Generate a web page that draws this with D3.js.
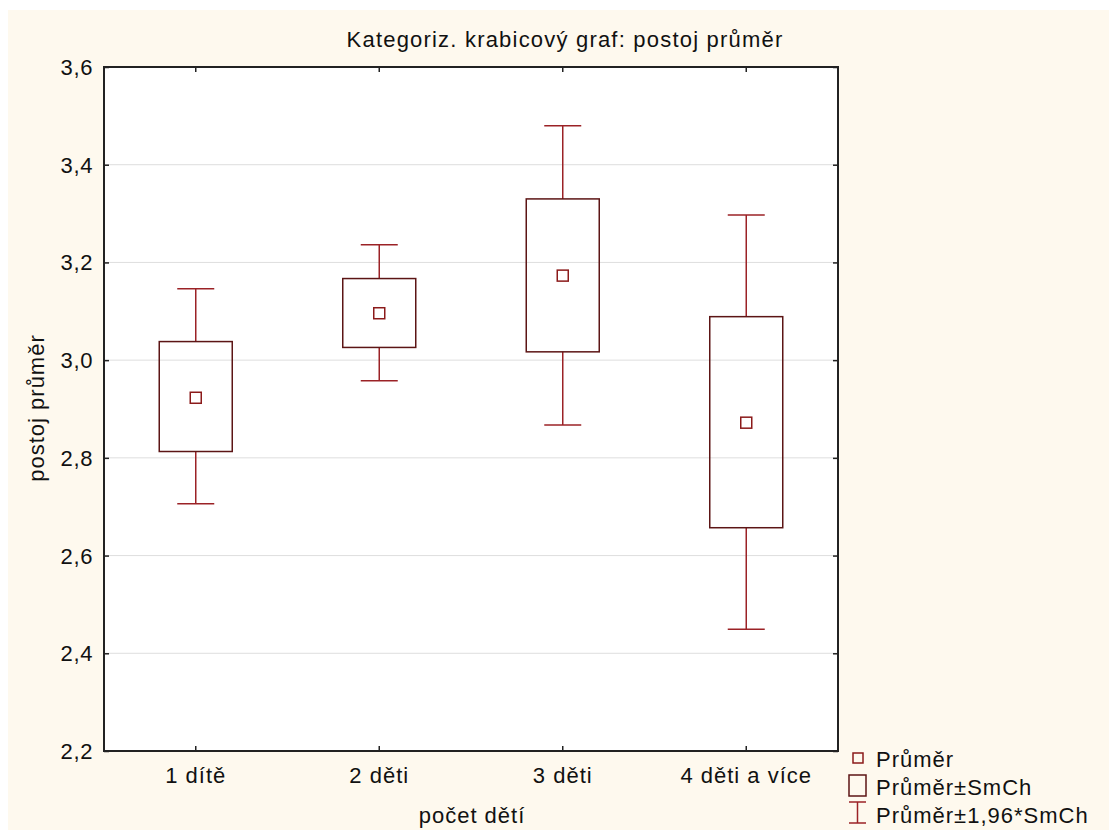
<!DOCTYPE html>
<html>
<head>
<meta charset="utf-8">
<script src="https://cdn.jsdelivr.net/npm/d3@7"></script>
<style>
  body { margin: 0; background: #fff; font-family: Arial, "Liberation Sans", sans-serif; }
  svg text { fill: #111; }
</style>
</head>
<body>
<div id="chart"></div>
<script>
// hodnoty
const categories = ['1 dítě', '2 děti', '3 děti', '4 děti a více'];
const means = [2.923, 3.096, 3.173, 2.872];
const boxLow = [2.813, 3.026, 3.017, 2.657];
const boxHigh = [3.038, 3.167, 3.330, 3.089];
const whiskLow = [2.706, 2.958, 2.867, 2.449];
const whiskHigh = [3.146, 3.236, 3.480, 3.297];
const yTicks = [2.2, 2.4, 2.6, 2.8, 3.0, 3.2, 3.4, 3.6];

const W = 1109, H = 830;
const m = { left: 104, right: 838, top: 67, bottom: 751 };
const boxCol = '#5c1515', whiskCol = '#9b2226', meanCol = '#8b1a1a';
const FONT = 'Arial, "Liberation Sans", sans-serif';

const svg = d3.select('#chart').append('svg').attr('width', W).attr('height', H);

svg.append('rect').attr('x', 8).attr('y', 10).attr('width', W - 8).attr('height', H - 10)
   .attr('fill', '#fef9ee');

const x = d3.scaleBand().domain(categories).range([m.left, m.right]);
const y = d3.scaleLinear().domain([2.2, 3.6]).range([m.bottom, m.top]);

svg.append('rect').attr('x', m.left).attr('y', m.top)
   .attr('width', m.right - m.left).attr('height', m.bottom - m.top).attr('fill', '#fff');

// mřížka
svg.append('g').selectAll('line').data(yTicks.slice(1, -1)).enter().append('line')
   .attr('x1', m.left).attr('x2', m.right)
   .attr('y1', d => y(d)).attr('y2', d => y(d))
   .attr('stroke', '#dedede').attr('stroke-width', 1);

const fmt = d => d.toFixed(1).replace('.', ',');

// osy - tiky dovnitř
const yA = d3.axisLeft(y).tickValues(yTicks).tickFormat(fmt).tickSizeInner(-5).tickSizeOuter(0);
const gy = svg.append('g').attr('transform', 'translate(' + m.left + ',0)').call(yA);
const yR = d3.axisRight(y).tickValues(yTicks).tickFormat('').tickSizeInner(-5).tickSizeOuter(0);
const gyr = svg.append('g').attr('transform', 'translate(' + m.right + ',0)').call(yR);
const xA = d3.axisBottom(x).tickSizeInner(-5).tickSizeOuter(0);
const gx = svg.append('g').attr('transform', 'translate(0,' + m.bottom + ')').call(xA);
const xT = d3.axisTop(x).tickFormat('').tickSizeInner(-5).tickSizeOuter(0);
const gxt = svg.append('g').attr('transform', 'translate(0,' + m.top + ')').call(xT);

[gy, gyr, gx, gxt].forEach(g => {
  g.select('.domain').remove();
  g.selectAll('line').attr('stroke', '#222').attr('stroke-width', 1.5);
  g.selectAll('text').style('font-size', '22px').style('font-family', FONT)
   .style('letter-spacing', '0.6px').attr('fill', '#111');
});
gy.selectAll('text').attr('x', -11).attr('dy', '0.34em');
gx.selectAll('text').attr('y', 32).attr('dy', 0).style('letter-spacing', '1px');

svg.append('rect').attr('x', m.left).attr('y', m.top)
   .attr('width', m.right - m.left).attr('height', m.bottom - m.top)
   .attr('fill', 'none').attr('stroke', '#222').attr('stroke-width', 2);

// krabice
const idx = d3.range(categories.length);
const cx = i => x(categories[i]) + x.bandwidth() / 2;
const bw = 73, cw = 37;

const g = svg.append('g');
g.selectAll('.wl').data(idx).enter().append('line')
 .attr('x1', cx).attr('x2', cx)
 .attr('y1', i => y(whiskHigh[i])).attr('y2', i => y(boxHigh[i]))
 .attr('stroke', whiskCol).attr('stroke-width', 1.5);
g.selectAll('.wl2').data(idx).enter().append('line')
 .attr('x1', cx).attr('x2', cx)
 .attr('y1', i => y(boxLow[i])).attr('y2', i => y(whiskLow[i]))
 .attr('stroke', whiskCol).attr('stroke-width', 1.5);
g.selectAll('.capH').data(idx).enter().append('line')
 .attr('x1', i => cx(i) - cw / 2).attr('x2', i => cx(i) + cw / 2)
 .attr('y1', i => y(whiskHigh[i])).attr('y2', i => y(whiskHigh[i]))
 .attr('stroke', whiskCol).attr('stroke-width', 1.5);
g.selectAll('.capL').data(idx).enter().append('line')
 .attr('x1', i => cx(i) - cw / 2).attr('x2', i => cx(i) + cw / 2)
 .attr('y1', i => y(whiskLow[i])).attr('y2', i => y(whiskLow[i]))
 .attr('stroke', whiskCol).attr('stroke-width', 1.5);
g.selectAll('.box').data(idx).enter().append('rect')
 .attr('x', i => cx(i) - bw / 2).attr('width', bw)
 .attr('y', i => y(boxHigh[i])).attr('height', i => y(boxLow[i]) - y(boxHigh[i]))
 .attr('fill', 'none').attr('stroke', boxCol).attr('stroke-width', 1.5);
g.selectAll('.mean').data(idx).enter().append('rect')
 .attr('x', i => cx(i) - 5.5).attr('width', 11)
 .attr('y', i => y(means[i]) - 5.5).attr('height', 11)
 .attr('fill', 'none').attr('stroke', meanCol).attr('stroke-width', 1.5);

// popisky
const lab = (t) => svg.append('text').text(t).style('font-size', '22px')
  .style('font-family', FONT).style('letter-spacing', '1px');
lab('Kategoriz. krabicový graf: postoj průměr')
   .attr('x', 565).attr('y', 47).attr('text-anchor', 'middle').style('letter-spacing', '1.2px');
lab('počet dětí')
   .attr('x', 472).attr('y', 823).attr('text-anchor', 'middle');
lab('postoj průměr')
   .attr('transform', 'translate(44,408) rotate(-90)').attr('text-anchor', 'middle');

// legenda
const lg = svg.append('g');
lg.append('rect').attr('x', 853).attr('y', 753).attr('width', 10).attr('height', 10)
  .attr('fill', 'none').attr('stroke', meanCol).attr('stroke-width', 1.5);
lg.append('rect').attr('x', 849).attr('y', 775).attr('width', 17).attr('height', 21)
  .attr('fill', 'none').attr('stroke', boxCol).attr('stroke-width', 1.5);
lg.append('line').attr('x1', 849).attr('x2', 866).attr('y1', 802).attr('y2', 802).attr('stroke', whiskCol).attr('stroke-width', 1.5);
lg.append('line').attr('x1', 849).attr('x2', 866).attr('y1', 823).attr('y2', 823).attr('stroke', whiskCol).attr('stroke-width', 1.5);
lg.append('line').attr('x1', 857.5).attr('x2', 857.5).attr('y1', 802).attr('y2', 823).attr('stroke', whiskCol).attr('stroke-width', 1.5);
const legTexts = ['Průměr', 'Průměr±SmCh', 'Průměr±1,96*SmCh'];
lg.selectAll('text').data(legTexts).enter().append('text')
  .text(d => d).attr('x', 876).attr('y', (d, i) => 767 + i * 28)
  .style('font-size', '22px').style('font-family', FONT).style('letter-spacing', '1px');
</script>
</body>
</html>
